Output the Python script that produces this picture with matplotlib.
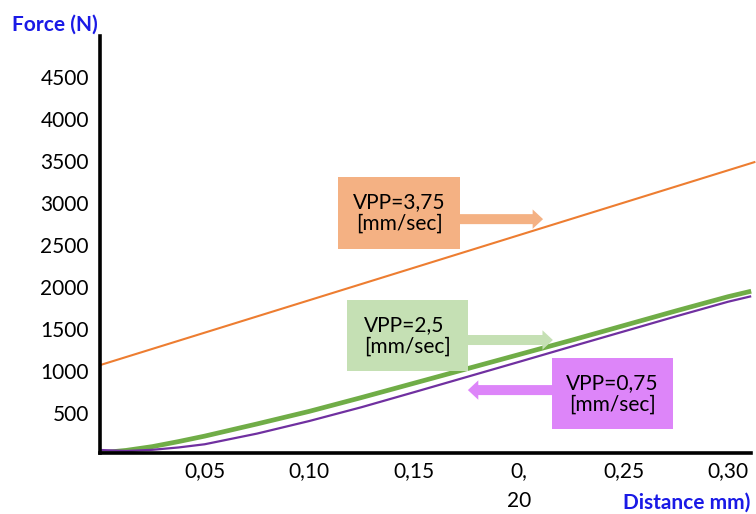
import matplotlib.pyplot as plt
from matplotlib.patches import Rectangle

plt.rcParams.update({"font.family": ["Lato", "DejaVu Sans"], "font.size": 15})

ORANGE = "#ED7D31"; GREEN = "#70AD47"; PURPLE = "#7030A0"; BLUE = "#1A1AE6"
ORANGE_BOX = "#F4B183"; GREEN_BOX = "#C5E0B4"; PURPLE_BOX = "#DD85F9"

# distance (mm) and force (N)
dist_orange = [0.0, 0.313]
force_orange = [1070, 3490]

dist = [0.0, 0.0125, 0.025, 0.0375, 0.05, 0.075, 0.10, 0.125, 0.15, 0.175, 0.20,
        0.225, 0.25, 0.275, 0.30, 0.311]
force_green = [25, 55, 100, 160, 225, 370, 520, 685, 855, 1025, 1195,
               1365, 1540, 1715, 1885, 1950]
force_purple = [60, 48, 62, 90, 128, 255, 405, 570, 748, 928, 1108,
                1290, 1470, 1650, 1825, 1890]

xticks = [0.05, 0.10, 0.15, 0.20, 0.25, 0.30]
xticklabels = ["0,05", "0,10", "0,15", "0,\n20", "0,25", "0,30"]
yticks = [500, 1000, 1500, 2000, 2500, 3000, 3500, 4000, 4500]

fig = plt.figure(figsize=(7.56, 5.14), dpi=100)
ax = fig.add_axes([100/756, 61/514, 656/756, 417/514])

ax.plot(dist_orange, force_orange, color=ORANGE, lw=1.5, solid_capstyle="butt")
ax.plot(dist, force_green, color=GREEN, lw=3.4, solid_capstyle="butt", solid_joinstyle="round")
ax.plot(dist, force_purple, color=PURPLE, lw=1.6, solid_capstyle="butt", solid_joinstyle="round")

ax.set_xlim(0, 0.3133)
ax.set_ylim(24, 4988)
for s in ("top", "right"):
    ax.spines[s].set_visible(False)
for s in ("left", "bottom"):
    ax.spines[s].set_linewidth(2.6)
ax.spines["bottom"].set_bounds(0, 0.311)
ax.set_xticks(xticks)
ax.set_xticklabels(xticklabels, linespacing=1.6, va="top")
ax.set_yticks(yticks)
ax.set_yticklabels([str(v) for v in yticks])
ax.tick_params(axis="both", length=0)
ax.tick_params(axis="x", pad=6)
ax.tick_params(axis="y", pad=8)

fig.text(12/756, 1 - 25/514, "Force (N)", color=BLUE, fontweight="bold",
         fontsize=15, ha="left", va="center")
fig.text(750/756, 1 - 503/514, "Distance mm)", color=BLUE, fontweight="bold",
         fontsize=15, ha="right", va="center")

# labelled boxes with block arrows: (x0, x1, y0, y1, colour, text, arrow from, arrow to, arrow y)
boxes = [
    (0.1137, 0.1719, 2451, 3308, ORANGE_BOX, "VPP=3,75\n[mm/sec]", 0.1715, 0.2116, 2808, "center"),
    (0.1180, 0.1757, 1000, 1844, GREEN_BOX, "VPP=2,5\n[mm/sec]", 0.1753, 0.2163, 1369, "left"),
    (0.2159, 0.2736, 309, 1154, PURPLE_BOX, "VPP=0,75\n[mm/sec]", 0.2163, 0.1757, 773, "center"),
]
for x0, x1, y0, y1, col, txt, a0, a1, ay, al in boxes:
    ax.add_patch(Rectangle((x0, y0), x1 - x0, y1 - y0, facecolor=col,
                           edgecolor="none", zorder=4, clip_on=False))
    ax.annotate("", xy=(a1, ay), xytext=(a0, ay), zorder=3,
                arrowprops=dict(arrowstyle="simple,head_length=0.75,head_width=1.4,tail_width=0.72",
                                color=col, mutation_scale=10, shrinkA=0, shrinkB=0, lw=0))
    ax.text((x0 + x1) / 2, (y0 + y1) / 2, txt, ha="center", va="center",
            multialignment=al, linespacing=1.1, fontsize=15, zorder=5)

fig.savefig("out.png", dpi=100)
